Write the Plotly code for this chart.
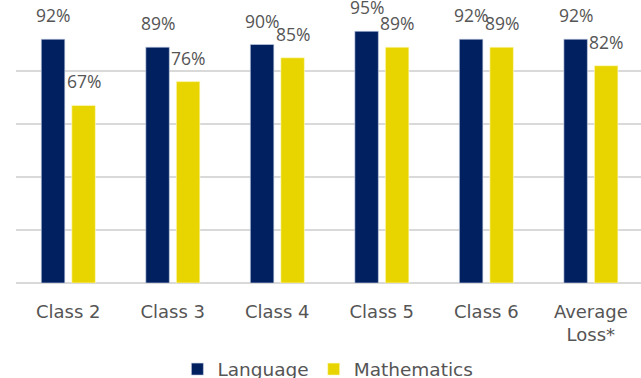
import plotly.graph_objects as go

categories = ["Class 2", "Class 3", "Class 4", "Class 5", "Class 6", "Average<br>Loss*"]
language = [92, 89, 90, 95, 92, 92]
mathematics = [67, 76, 85, 89, 89, 82]

NAVY = "#002060"
YELLOW = "#E8D500"
GREY_TEXT = "#555555"
GRID = "#D9D9D9"
LABEL_FONT = "Open Sans"
AXIS_FONT = "DejaVu Sans"

BAR_W = 0.225
OFF_LANG = -0.258
OFF_MATH = 0.034

fig = go.Figure()
fig.add_trace(go.Bar(
    name="Language", x=categories, y=language,
    width=BAR_W, offset=OFF_LANG,
    marker=dict(color=NAVY, line=dict(color="rgba(200,210,230,0.8)", width=0.8)),
))
fig.add_trace(go.Bar(
    name="Mathematics", x=categories, y=mathematics,
    width=BAR_W, offset=OFF_MATH,
    marker=dict(color=YELLOW, line=dict(color="rgba(255,250,200,0.8)", width=0.8)),
))

# value labels above each bar
for i, cat in enumerate(categories):
    for vals, off in ((language, OFF_LANG), (mathematics, OFF_MATH)):
        fig.add_annotation(
            x=i + off + BAR_W / 2, y=vals[i], xref="x", yref="y",
            text=f"{vals[i]}%", showarrow=False,
            yanchor="bottom", yshift=10,
            font=dict(family=LABEL_FONT, size=17.5, color=GREY_TEXT),
        )

fig.update_layout(
    width=641, height=378,
    margin=dict(l=16, r=0, t=18, b=95, autoexpand=False),
    plot_bgcolor="white", paper_bgcolor="white",
    barmode="group",
    showlegend=True,
    legend=dict(
        orientation="h", x=0.499, xanchor="center", y=-0.255, yanchor="top",
        font=dict(family=AXIS_FONT, size=18.5, color=GREY_TEXT),
        itemwidth=30, traceorder="normal",
    ),
    font=dict(family=AXIS_FONT, color=GREY_TEXT),
)
fig.update_xaxes(
    type="category", range=[-0.5, 5.48],
    showgrid=False, showline=False, ticks="",
    tickfont=dict(family=AXIS_FONT, size=18, color=GREY_TEXT),
    ticklabelstandoff=16,
)
fig.update_yaxes(
    range=[0, 100], dtick=20, showticklabels=False,
    showgrid=True, gridcolor=GRID, gridwidth=1.5,
    zeroline=True, zerolinecolor=GRID, zerolinewidth=1.5,
    showline=False,
)

fig.write_html("out.html")
